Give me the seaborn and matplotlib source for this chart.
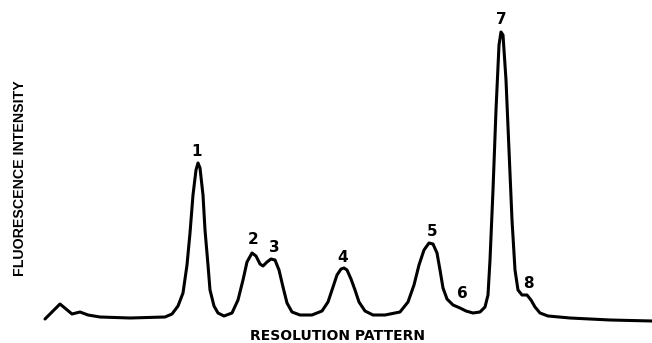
import matplotlib
matplotlib.use("Agg")
import matplotlib.pyplot as plt
import seaborn as sns
import pandas as pd

# Elution position (pixel-like scale) and fluorescence intensity
position = [45, 52, 60, 66, 72, 80, 88, 100, 130, 165, 172, 178, 183, 187, 190, 193, 196, 198,
            200, 203, 205, 208, 210, 214, 218, 224, 232, 238, 243, 247, 252, 256, 260, 263,
            267, 271, 275, 279, 283, 287, 292, 300, 312, 322, 328, 333, 337, 341, 344, 347,
            351, 355, 359, 365, 373, 385, 400, 408, 414, 419, 424, 429, 433, 437, 440, 443,
            447, 453, 460, 466, 473, 480, 485, 488, 490, 493, 496, 499, 501, 503, 506, 509,
            512, 515, 518, 522, 527, 531, 535, 540, 548, 570, 610, 652]
trace_y = [319, 312, 304, 309, 314, 312, 315, 317, 318, 317, 314, 306, 293, 265, 233, 195, 170, 163,
           168, 195, 230, 265, 290, 306, 313, 316, 313, 300, 280, 262, 253, 256, 264, 266,
           262, 259, 260, 270, 287, 303, 312, 315, 315, 311, 302, 287, 275, 269, 268, 270,
           279, 290, 302, 311, 315, 315, 312, 302, 285, 265, 250, 243, 244, 253, 270, 288,
           299, 305, 308, 311, 313, 312, 307, 295, 260, 190, 110, 45, 32, 35, 80, 150,
           220, 270, 290, 295, 295, 300, 307, 313, 316, 318, 320, 321]
BASE = 330
intensity = [BASE - v for v in trace_y]

peak_labels = ["1", "2", "3", "4", "5", "6", "7", "8"]
peak_x = [197, 253, 274, 343, 432, 462, 501, 528]
peak_label_y = [151, 239, 247, 257, 232, 293, 19, 283]

df = pd.DataFrame({"position": position, "intensity": intensity})

sns.set_theme(style="white")
fig = plt.figure(figsize=(6.52, 3.43), dpi=100)
ax = fig.add_axes([0, 0, 1, 1])
sns.lineplot(data=df, x="position", y="intensity", ax=ax, color="black",
             linewidth=2.2, sort=False, estimator=None)
ax.set_xlim(0, 652)
ax.set_ylim(BASE - 343, BASE)
ax.axis("off")

for lab, px, py in zip(peak_labels, peak_x, peak_label_y):
    ax.text(px, BASE - py, lab, ha="center", va="center", fontsize=11,
            fontweight="bold", family="DejaVu Sans", color="black")

fig.text(20 / 652, 1 - 178 / 343, "FLUORESCENCE INTENSITY", rotation=90,
         ha="center", va="center", fontsize=10.2, fontweight="bold",
         family=["Liberation Sans", "DejaVu Sans"], color="black")
fig.text(337 / 652, 1 - 336 / 343, "RESOLUTION PATTERN", ha="center", va="center",
         fontsize=10, fontweight="bold", family="DejaVu Sans", color="black")

fig.savefig("out.png", dpi=100, facecolor="white")
